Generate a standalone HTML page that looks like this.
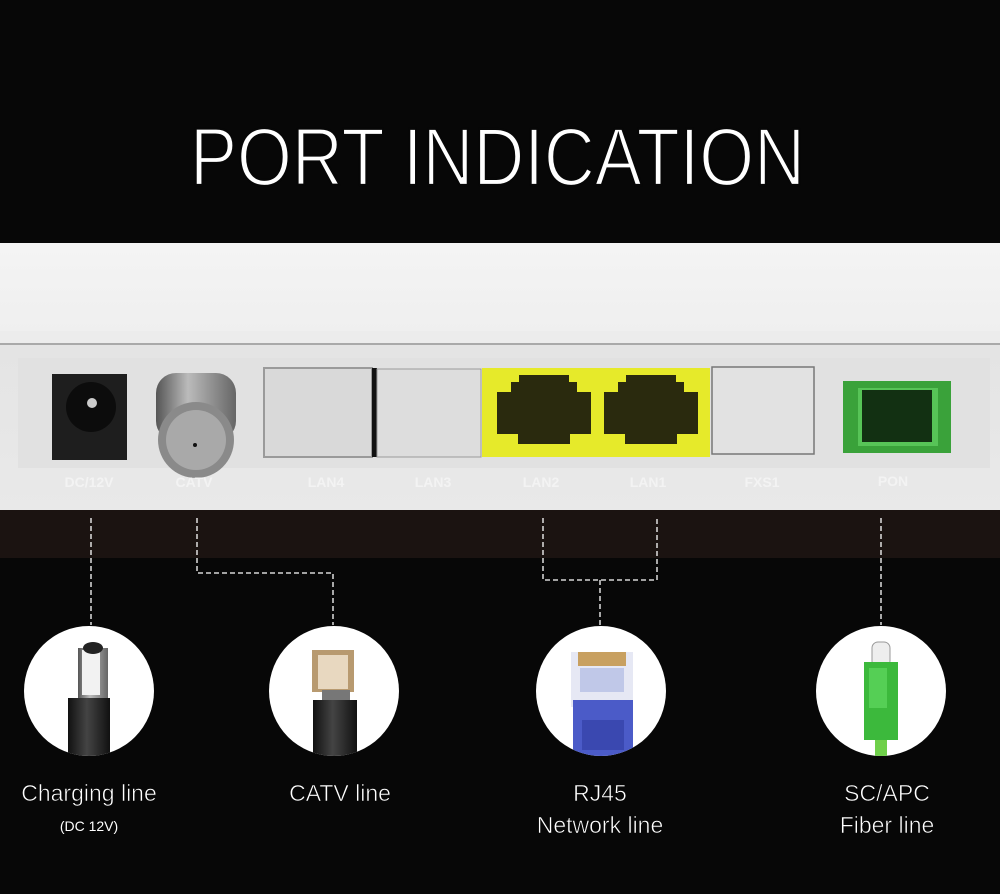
<!DOCTYPE html>
<html><head><meta charset="utf-8"><style>
html,body{margin:0;padding:0;background:#070707;}
svg{display:block}
text{font-family:"Liberation Sans",sans-serif;}
</style></head><body>
<svg width="1000" height="894" viewBox="0 0 1000 894" xmlns="http://www.w3.org/2000/svg">
<defs>
<linearGradient id="top" x1="0" y1="0" x2="0" y2="1"><stop offset="0" stop-color="#f4f4f4"/><stop offset="1" stop-color="#efefef"/></linearGradient>
<linearGradient id="panel" x1="0" y1="0" x2="0" y2="1"><stop offset="0" stop-color="#e4e4e4"/><stop offset="1" stop-color="#e9e9e9"/></linearGradient>
<linearGradient id="cyl" x1="0" y1="0" x2="1" y2="0"><stop offset="0" stop-color="#555"/><stop offset=".4" stop-color="#bbb"/><stop offset="1" stop-color="#666"/></linearGradient>
<linearGradient id="blk" x1="0" y1="0" x2="1" y2="0"><stop offset="0" stop-color="#111"/><stop offset=".45" stop-color="#444"/><stop offset="1" stop-color="#111"/></linearGradient>
<clipPath id="c1"><circle cx="89" cy="691" r="65"/></clipPath>
<clipPath id="c2"><circle cx="334" cy="691" r="65"/></clipPath>
<clipPath id="c3"><circle cx="601" cy="691" r="65"/></clipPath>
<clipPath id="c4"><circle cx="881" cy="691" r="65"/></clipPath>
</defs>
<rect width="1000" height="894" fill="#070707"/>
<text x="190" y="185" font-size="82" fill="#fff" stroke="#070707" stroke-width="2.2" textLength="615" lengthAdjust="spacingAndGlyphs">PORT INDICATION</text>

<!-- router -->
<rect x="0" y="243" width="1000" height="89" fill="url(#top)"/>
<rect x="0" y="331" width="1000" height="14" fill="#ececec"/>
<line x1="0" y1="344" x2="1000" y2="344" stroke="#666" stroke-width="1"/>
<rect x="0" y="345" width="1000" height="165" fill="url(#panel)"/>
<rect x="18" y="358" width="972" height="110" fill="#e1e1e1"/>
<rect x="0" y="510" width="1000" height="48" fill="#1b1311"/>

<!-- DC -->
<rect x="52" y="374" width="75" height="86" fill="#1e1e1e"/>
<circle cx="91" cy="407" r="25" fill="#0c0c0c"/>
<circle cx="92" cy="403" r="5" fill="#ccc"/>
<!-- CATV -->
<rect x="156" y="373" width="80" height="68" rx="20" fill="url(#cyl)"/>
<circle cx="196" cy="440" r="38" fill="#8a8a8a"/>
<circle cx="196" cy="440" r="30" fill="#a9a9a9"/>
<circle cx="195" cy="445" r="2" fill="#111"/>
<!-- LAN4 LAN3 -->
<rect x="264" y="368" width="108" height="89" fill="#d9d9d9" stroke="#9a9a9a" stroke-width="2"/>
<rect x="372" y="368" width="5" height="89" fill="#111"/>
<rect x="377" y="369" width="104" height="88" fill="#dddddd" stroke="#9a9a9a" stroke-width="1"/>
<!-- yellow LAN2 LAN1 -->
<rect x="482" y="368" width="228" height="89" fill="#e6ea2a"/>
<path d="M497 392h14v-10h8v-7h50v7h8v10h14v42h-21v10h-52v-10h-21z" fill="#2a2a0e"/>
<path d="M604 392h14v-10h8v-7h50v7h8v10h14v42h-21v10h-52v-10h-21z" fill="#2a2a0e"/>
<rect x="712" y="367" width="102" height="87" fill="#e2e2e2" stroke="#777" stroke-width="1.5"/>
<!-- PON -->
<rect x="843" y="381" width="108" height="72" fill="#3aa23a"/>
<rect x="858" y="388" width="80" height="58" fill="#57c457"/>
<path d="M862 390h70v52h-70z" fill="#123012"/>
<!-- labels -->
<g font-size="14" fill="#f3f3f3" font-weight="bold" text-anchor="middle">
<text x="89" y="487">DC/12V</text><text x="194" y="487">CATV</text>
<text x="326" y="487">LAN4</text><text x="433" y="487">LAN3</text>
<text x="541" y="487">LAN2</text><text x="648" y="487">LAN1</text>
<text x="762" y="487">FXS1</text><text x="893" y="486">PON</text>
</g>

<!-- dashed connectors -->
<g stroke="#fff" stroke-width="1.3" stroke-dasharray="5,3" fill="none">
<path d="M91 518V625"/>
<path d="M197 518V573H333V625"/>
<path d="M543 518V580H657V518"/>
<path d="M600 580V625"/>
<path d="M881 518V625"/>
</g>

<!-- circles -->
<circle cx="89" cy="691" r="65" fill="#fff"/>
<circle cx="334" cy="691" r="65" fill="#fff"/>
<circle cx="601" cy="691" r="65" fill="#fff"/>
<circle cx="881" cy="691" r="65" fill="#fff"/>

<g clip-path="url(#c1)">
<rect x="78" y="648" width="30" height="50" fill="url(#cyl)"/>
<rect x="82" y="650" width="18" height="45" fill="#f2f2f2"/>
<ellipse cx="93" cy="648" rx="10" ry="6" fill="#222"/>
<rect x="68" y="698" width="42" height="70" fill="url(#blk)"/>
</g>
<g clip-path="url(#c2)">
<rect x="312" y="650" width="42" height="42" fill="#b89a70"/>
<rect x="318" y="655" width="30" height="34" fill="#e8d8c0"/>
<rect x="322" y="690" width="28" height="12" fill="#777"/>
<rect x="313" y="700" width="44" height="70" fill="url(#blk)"/>
</g>
<g clip-path="url(#c3)">
<rect x="571" y="652" width="62" height="55" fill="#e6e8f4"/>
<rect x="578" y="652" width="48" height="14" fill="#c8a060"/>
<rect x="580" y="668" width="44" height="24" fill="#c0c8e8"/>
<rect x="573" y="700" width="60" height="70" fill="#4b5bc8"/>
<rect x="582" y="720" width="42" height="30" fill="#3a48b0"/>
</g>
<g clip-path="url(#c4)">
<rect x="872" y="642" width="18" height="25" rx="6" fill="#eee" stroke="#999"/>
<rect x="864" y="662" width="34" height="78" fill="#3cb93c"/>
<rect x="869" y="668" width="18" height="40" fill="#55cf55"/>
<rect x="875" y="740" width="12" height="30" fill="#6fd04a"/>
</g>

<g fill="#fff" text-anchor="middle" font-size="23" stroke="#070707" stroke-width="0.6">
<text x="89" y="801">Charging line</text>
<text x="89" y="831" font-size="14" stroke="none">(DC 12V)</text>
<text x="340" y="801">CATV line</text>
<text x="600" y="801">RJ45</text>
<text x="600" y="833">Network line</text>
<text x="887" y="801">SC/APC</text>
<text x="887" y="833">Fiber line</text>
</g>
</svg>
</body></html>
